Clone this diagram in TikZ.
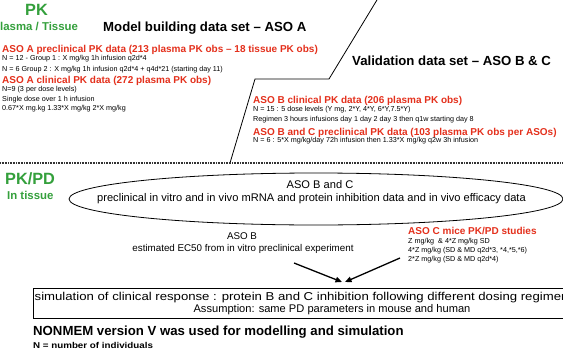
\documentclass[tikz,border=0pt]{standalone}
\usepackage{fontspec}
\setmainfont{Liberation Sans}
\usetikzlibrary{arrows.meta,shapes.geometric}
\definecolor{hdred}{RGB}{228,48,28}
\definecolor{hdgreen}{RGB}{52,160,60}
\newcommand{\fsz}[1]{\fontsize{#1}{#1}\selectfont}

\begin{document}
\begin{tikzpicture}[x=1pt,y=-1pt,
  lbl/.style={inner sep=0pt, anchor=base west},
  redhead/.style={lbl, font=\fsz{10}\bfseries, text=hdred},
  small/.style={lbl, font=\fsz{7.2}},
  title/.style={lbl, font=\fsz{13.2}\bfseries},
  greenbig/.style={lbl, font=\fsz{16.3}\bfseries, text=hdgreen},
  greensub/.style={lbl, font=\fsz{11.4}\bfseries, text=hdgreen},
  body/.style={lbl, font=\fsz{11.1}},
  note/.style={lbl, font=\fsz{9.8}},
  arr/.style={-{Triangle[length=6.5pt,width=5.5pt]}, line width=1.3pt},
  separator/.style={line width=1.5pt, black!80, dash pattern=on 1pt off 0.6pt},
]
\useasboundingbox (0,0) rectangle (563,359);
\fill[white] (0,0) rectangle (563,359);
\clip (0,0) rectangle (563,359);

% ---------- PK section ----------
\node[greenbig] (pk) at (25,15) {PK};
\node[greensub] (pkwhere) at (0,30) {lasma / Tissue};
\node[title] (model) at (103,31.7) {Model building data set – ASO A};

\node[redhead] (asoAprec) at (2,52) {ASO A preclinical PK data (213 plasma PK obs – 18 tissue PK obs)};
\node[small] (asoAprec1) at (2,60.8) {N = 12 - Group 1 : X mg/kg 1h infusion q2d*4};
\node[small] (asoAprec2) at (2,71.5) {N = 6 Group 2 : X mg/kg 1h infusion q2d*4 + q4d*21 (starting day 11)};
\node[redhead] (asoAclin) at (2,83) {ASO A clinical PK data (272 plasma PK obs)};
\node[small] (asoAclin1) at (2,91.8) {N=9 (3 per dose levels)};
\node[small] (asoAclin2) at (2,101.5) {Single dose over 1 h infusion};
\node[small] (asoAclin3) at (2,110.7) {0.67*X mg.kg 1.33*X mg/kg 2*X mg/kg};

% boundary between model building and validation data
\coordinate (bLow) at (230,163);
\coordinate (bKnee) at (255,79);
\coordinate (bCorner) at (329,79);
\coordinate (bTop) at (380,-5);
\draw[line width=0.8pt] (bLow) -- (bKnee) -- (bCorner) -- (bTop);

\node[title] (valid) at (352,65) {Validation data set – ASO B \& C};

\node[redhead] (asoBclin) at (253,103) {ASO B clinical PK data (206 plasma PK obs)};
\node[small] (asoBclin1) at (253,111.8) {N = 15 : 5 dose levels (Y mg, 2*Y, 4*Y, 6*Y,7.5*Y)};
\node[small] (asoBclin2) at (253,121.8) {Regimen 3 hours infusions day 1 day 2 day 3 then q1w starting day 8};
\node[redhead] (asoBCprec) at (253,135) {ASO B and C preclinical PK data (103 plasma PK obs per ASOs)};
\node[small] (asoBCprec1) at (253,142.8) {N = 6 : 5*X mg/kg/day 72h infusion then 1.33*X mg/kg q2w 3h infusion};

% section separator
\coordinate (sepL) at (0,163);
\coordinate (sepR) at (563,163);
\draw[separator] (sepL) -- (sepR);

% ---------- PK/PD section ----------
\node[greenbig] (pkpd) at (5,184) {PK/PD};
\node[greensub] (tissue) at (7,199) {In tissue};

\node[draw, ellipse, line width=0.8pt, minimum width=494pt, minimum height=52pt, inner sep=0pt] (invitro) at (316,199) {};
\node[body, anchor=base] (invitroA) at (320,188.3) {ASO B and C};
\node[body] (invitroB) at (97,201.5) {preclinical in vitro and in vivo mRNA and protein inhibition data and in vivo efficacy data};

\node[note, anchor=base] (ec50A) at (242,239) {ASO B};
\node[note, anchor=base] (ec50B) at (243,251.5) {estimated EC50 from in vitro preclinical experiment};

\node[redhead] (mice) at (408,234) {ASO C mice PK/PD studies};
\node[small] (mice1) at (408,243.5) {Z mg/kg \ \& 4*Z mg/kg SD};
\node[small] (mice2) at (408,252.2) {4*Z mg/kg (SD \& MD q2d*3, *4,*5,*6)};
\node[small] (mice3) at (408,261) {2*Z mg/kg (SD \& MD q2d*4)};

\coordinate (ecTail) at (294,263);
\coordinate (ecTip) at (342,282);
\coordinate (miceTail) at (400,258);
\coordinate (miceTip) at (345,282);
\draw[arr] (ecTail) -- (ecTip);
\draw[arr] (miceTail) -- (miceTip);

% simulation box (runs past the right edge)
\node[draw, line width=0.8pt, anchor=north west, minimum width=600pt, minimum height=30pt, inner sep=0pt] (sim) at (33,288) {};
\node[lbl, font=\fsz{11.4}] (sim1) at (34.5,300) {\scalebox{1.155}[1]{simulation of clinical response : protein B and C inhibition following different dosing regimen}};
\node[body, anchor=base] (sim2) at (332,312.5) {Assumption: same PD parameters in mouse and human};

% footer
\node[title] (nonmem) at (33,335) {NONMEM version V was used for modelling and simulation};
\node[lbl, font=\fsz{8.5}\bfseries] (nkey) at (33,348) {\scalebox{1.15}[1]{N = number of individuals}};
\end{tikzpicture}
\end{document}
